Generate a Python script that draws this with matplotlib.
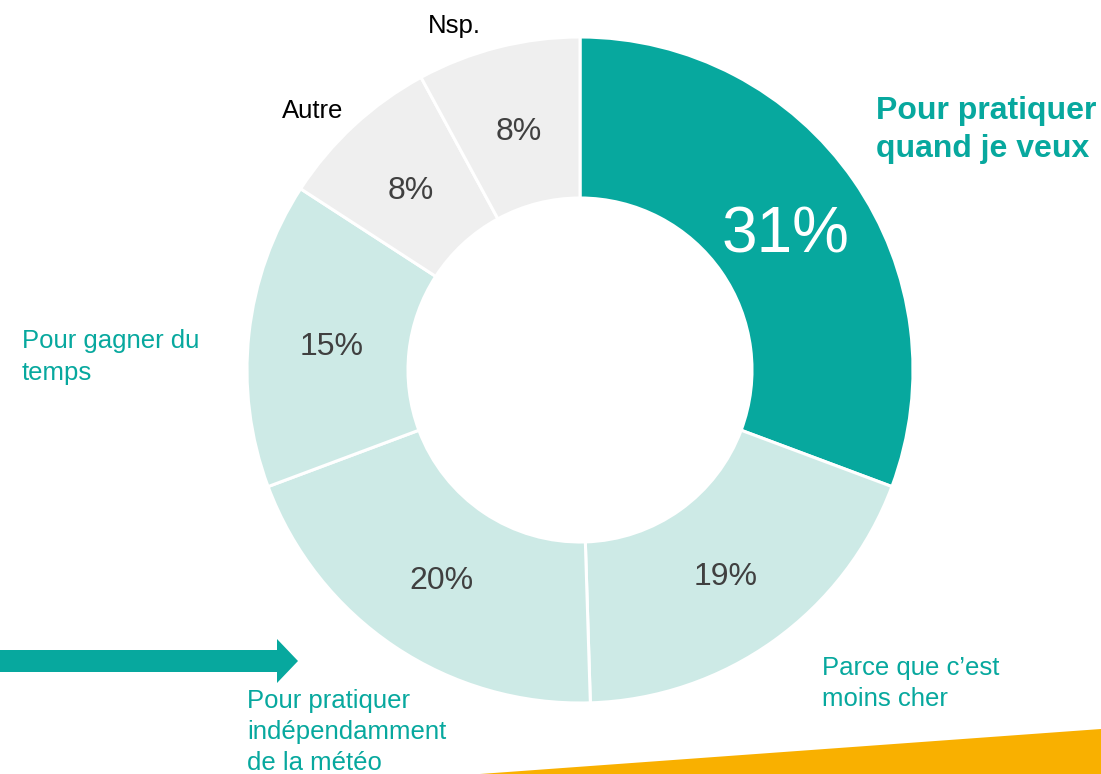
import matplotlib
matplotlib.use("Agg")
import matplotlib.pyplot as plt
from matplotlib.patches import Polygon
import numpy as np

plt.rcParams['font.family'] = ['Liberation Sans', 'DejaVu Sans']

# Data
categories = ["Pour pratiquer quand je veux", "Parce que c'est moins cher",
              "Pour pratiquer indépendamment de la météo", "Pour gagner du temps",
              "Autre", "Nsp."]
values = [31, 19, 20, 15, 8, 8]
pct_labels = ["31%", "19%", "20%", "15%", "8%", "8%"]

TEAL = "#07A89E"
LIGHT = "#CDEAE6"
GREY = "#EFEFEF"
colors = [TEAL, LIGHT, LIGHT, LIGHT, GREY, GREY]

W, H = 1101, 774
fig = plt.figure(figsize=(W / 100, H / 100), dpi=100)
ax = fig.add_axes([0, 0, 1, 1])

cx, cy = 580, H - 370
R, r_in = 333, 172

wedges, _ = ax.pie(values, colors=colors, startangle=90, counterclock=False,
                   center=(cx, cy), radius=R, frame=True,
                   wedgeprops=dict(width=R - r_in, edgecolor='white', linewidth=2.2))
ax.set_xlim(0, W)
ax.set_ylim(0, H)
ax.set_aspect('equal')
ax.axis('off')

for i, w in enumerate(wedges):
    th = np.deg2rad((w.theta1 + w.theta2) / 2)
    rr = (R + r_in) / 2 - 3
    x = cx + rr * np.cos(th)
    y = cy + rr * np.sin(th)
    if i == 0:
        ax.text(x, y - 8, pct_labels[i], fontsize=46, color='white', ha='center', va='center')
    else:
        ax.text(x, y - 4, pct_labels[i], fontsize=23, color='#404040', ha='center', va='center')


def lines(x, baselines, texts, **kw):
    for yb, t in zip(baselines, texts):
        ax.text(x, H - yb, t, ha='left', va='baseline', **kw)


# Category labels (one text per line, placed at its baseline)
lines(876, [119, 157], ["Pour pratiquer", "quand je veux"],
      fontsize=23, fontweight='bold', color=TEAL)
lines(22, [348, 380], ["Pour gagner du", "temps"], fontsize=18.5, color=TEAL)
lines(822, [675, 706], ["Parce que c\u2019est", "moins cher"], fontsize=18.5, color=TEAL)
lines(247, [708, 739, 770], ["Pour pratiquer", "indépendamment", "de la météo"],
      fontsize=18.5, color=TEAL)
lines(282, [118], ["Autre"], fontsize=18.5, color='black')
lines(428, [33], ["Nsp."], fontsize=18.5, color='black')

# Decorative arrow
arrow = Polygon([(0, H - 650), (277, H - 650), (277, H - 639), (298, H - 661),
                 (277, H - 683), (277, H - 672), (0, H - 672)],
                closed=True, facecolor=TEAL, edgecolor='none')
ax.add_patch(arrow)

# Orange corner shape
orange = Polygon([(480, 0), (W, H - 729), (W, 0)], closed=True,
                 facecolor="#F9B000", edgecolor='none')
ax.add_patch(orange)

fig.savefig("out.png", dpi=100)
